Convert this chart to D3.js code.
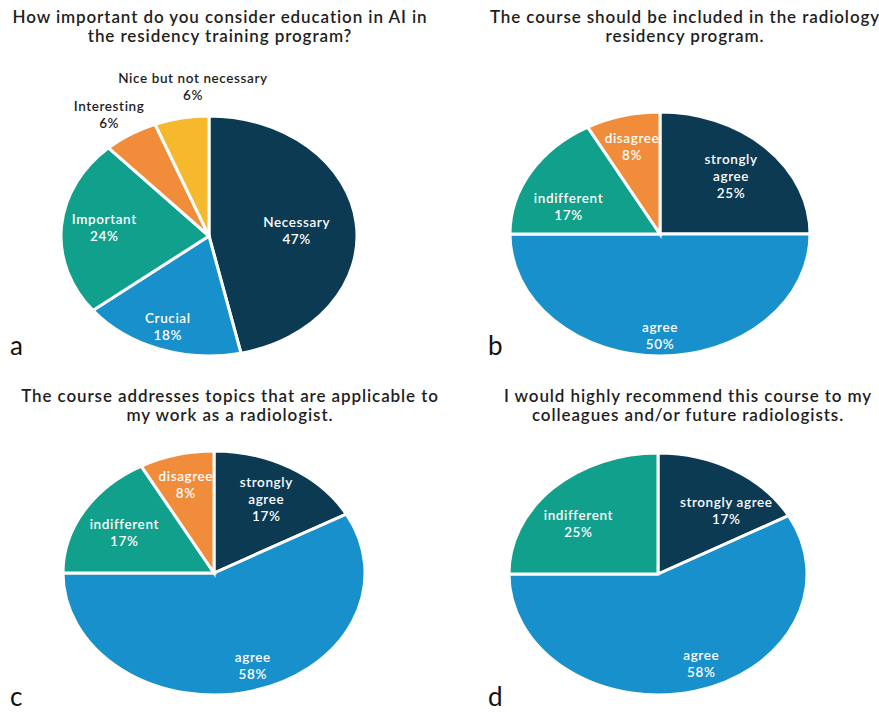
<!DOCTYPE html>
<html>
<head>
<meta charset="utf-8">
<script src="https://cdn.jsdelivr.net/npm/d3@7"></script>
<style>
  body { margin: 0; background: #fff; }
  svg { display: block; }
</style>
</head>
<body>
<div id="chart"></div>
<script>
// survey answers (percent of respondents)
const categoriesA = ["Necessary", "Crucial", "Important", "Interesting", "Nice but not necessary"];
const valuesA = [47, 18, 24, 6, 6];

const categoriesB = ["strongly agree", "agree", "indifferent", "disagree"];
const valuesB = [25, 50, 17, 8];

const categoriesC = ["strongly agree", "agree", "indifferent", "disagree"];
const valuesC = [17, 58, 17, 8];

const categoriesD = ["strongly agree", "agree", "indifferent"];
const valuesD = [17, 58, 25];

const titleA = ["How important do you consider education in AI in", "the residency training program?"];
const titleB = ["The course should be included in the radiology", "residency program."];
const titleC = ["The course addresses  topics that are applicable to", "my work as a radiologist."];
const titleD = ["I would highly recommend this course to my", "colleagues and/or future radiologists."];

const colorOf = {
  "Necessary": "#0c3a52",
  "Crucial": "#1790cb",
  "Important": "#11a08b",
  "Interesting": "#f18c3a",
  "Nice but not necessary": "#f6b82c",
  "strongly agree": "#0c3a52",
  "agree": "#1790cb",
  "indifferent": "#11a08b",
  "disagree": "#f18c3a"
};

// layout per panel: pie ellipse, label radius (fraction) and small pixel nudges
const panels = [
  { letter: "a", cats: categoriesA, vals: valuesA, title: titleA,
    cx: 209, cy: 236, rx: 148, ry: 120, titleX: 220, titleY: 23,
    labelR: [0.65, 0.83, 0.71, 1.22, 1.24], outside: [false, false, false, true, true], wrap: false,
    nudge: [[-8, 3], [0, -3], [0, -2], [-4, 3], [18, -3]],
    letterX: 10, letterY: 355 },
  { letter: "b", cats: categoriesB, vals: valuesB, title: titleB,
    cx: 660, cy: 234, rx: 150, ry: 122, titleX: 685, titleY: 23,
    labelR: [0.67, 0.84, 0.67, 0.75], outside: [false, false, false, false], wrap: true,
    nudge: [[0, 0], [0, -1], [-5, 14], [0, 1]],
    letterX: 488, letterY: 355 },
  { letter: "c", cats: categoriesC, vals: valuesC, title: titleC,
    cx: 214, cy: 573, rx: 151, ry: 122, titleX: 230, titleY: 402,
    labelR: [0.68, 0.82, 0.69, 0.75], outside: [false, false, false, false], wrap: true,
    nudge: [[0, -3], [8, -4], [0, 2], [0, 0]],
    letterX: 10, letterY: 706 },
  { letter: "d", cats: categoriesD, vals: valuesD, title: titleD,
    cx: 658, cy: 574, rx: 149, ry: 121, titleX: 688, titleY: 402,
    labelR: [0.61, 0.79, 0.68], outside: [false, false, false], wrap: false,
    nudge: [[22, 0], [14, -3], [-8, 8]],
    letterX: 488, letterY: 706 }
];

const width = 879, height = 713;
const font = "Lato, 'Open Sans', sans-serif";

const svg = d3.select("#chart")
  .append("svg")
  .attr("width", width)
  .attr("height", height)
  .attr("viewBox", [0, 0, width, height]);

svg.append("rect").attr("width", width).attr("height", height).attr("fill", "#fff");

const pie = d3.pie().sort(null).value(d => d.value);

panels.forEach(p => {
  const data = p.cats.map((c, i) => ({
    name: c, value: p.vals[i], labelR: p.labelR[i], outside: p.outside[i], nudge: p.nudge[i]
  }));
  const arcs = pie(data);
  const arc = d3.arc().innerRadius(0).outerRadius(p.rx);

  // title
  svg.append("text")
    .attr("x", p.titleX)
    .attr("y", p.titleY)
    .attr("text-anchor", "middle")
    .attr("font-family", font)
    .attr("font-size", 17)
    .attr("font-weight", 600)
    .attr("letter-spacing", 0.9)
    .attr("fill", "#1e1e1e")
    .selectAll("tspan")
    .data(p.title)
    .join("tspan")
    .attr("x", p.titleX)
    .attr("dy", (d, i) => i ? 19 : 0)
    .text(d => d);

  // pie, squashed vertically like the original figure
  const g = svg.append("g")
    .attr("transform", `translate(${p.cx},${p.cy}) scale(1,${p.ry / p.rx})`);

  g.selectAll("path")
    .data(arcs)
    .join("path")
    .attr("d", arc)
    .attr("fill", d => colorOf[d.data.name])
    .attr("stroke", "#fff")
    .attr("stroke-width", 3)
    .attr("vector-effect", "non-scaling-stroke");

  // slice labels
  svg.append("g")
    .attr("transform", `translate(${p.cx},${p.cy})`)
    .selectAll("text")
    .data(arcs)
    .join("text")
    .attr("text-anchor", "middle")
    .attr("font-family", font)
    .attr("font-size", 13.5)
    .attr("font-weight", 600)
    .attr("letter-spacing", 0.6)
    .attr("fill", d => d.data.outside ? "#1e1e1e" : "#fff")
    .each(function(d) {
      const mid = (d.startAngle + d.endAngle) / 2;
      const x = Math.sin(mid) * p.rx * d.data.labelR + d.data.nudge[0];
      const y = -Math.cos(mid) * p.ry * d.data.labelR + d.data.nudge[1];
      const pct = Math.round(d.data.value) + "%";
      const lines = (p.wrap && d.data.name === "strongly agree")
        ? ["strongly", "agree", pct]
        : [d.data.name, pct];
      const lh = 17;
      const top = y - (lines.length - 1) * lh / 2 + 5;
      d3.select(this).selectAll("tspan")
        .data(lines)
        .join("tspan")
        .attr("x", x)
        .attr("y", (l, i) => top + i * lh)
        .text(l => l);
    });

  // panel letter
  svg.append("text")
    .attr("x", p.letterX)
    .attr("y", p.letterY)
    .attr("font-family", font)
    .attr("font-size", 26)
    .attr("fill", "#111")
    .text(p.letter);
});
</script>
</body>
</html>
